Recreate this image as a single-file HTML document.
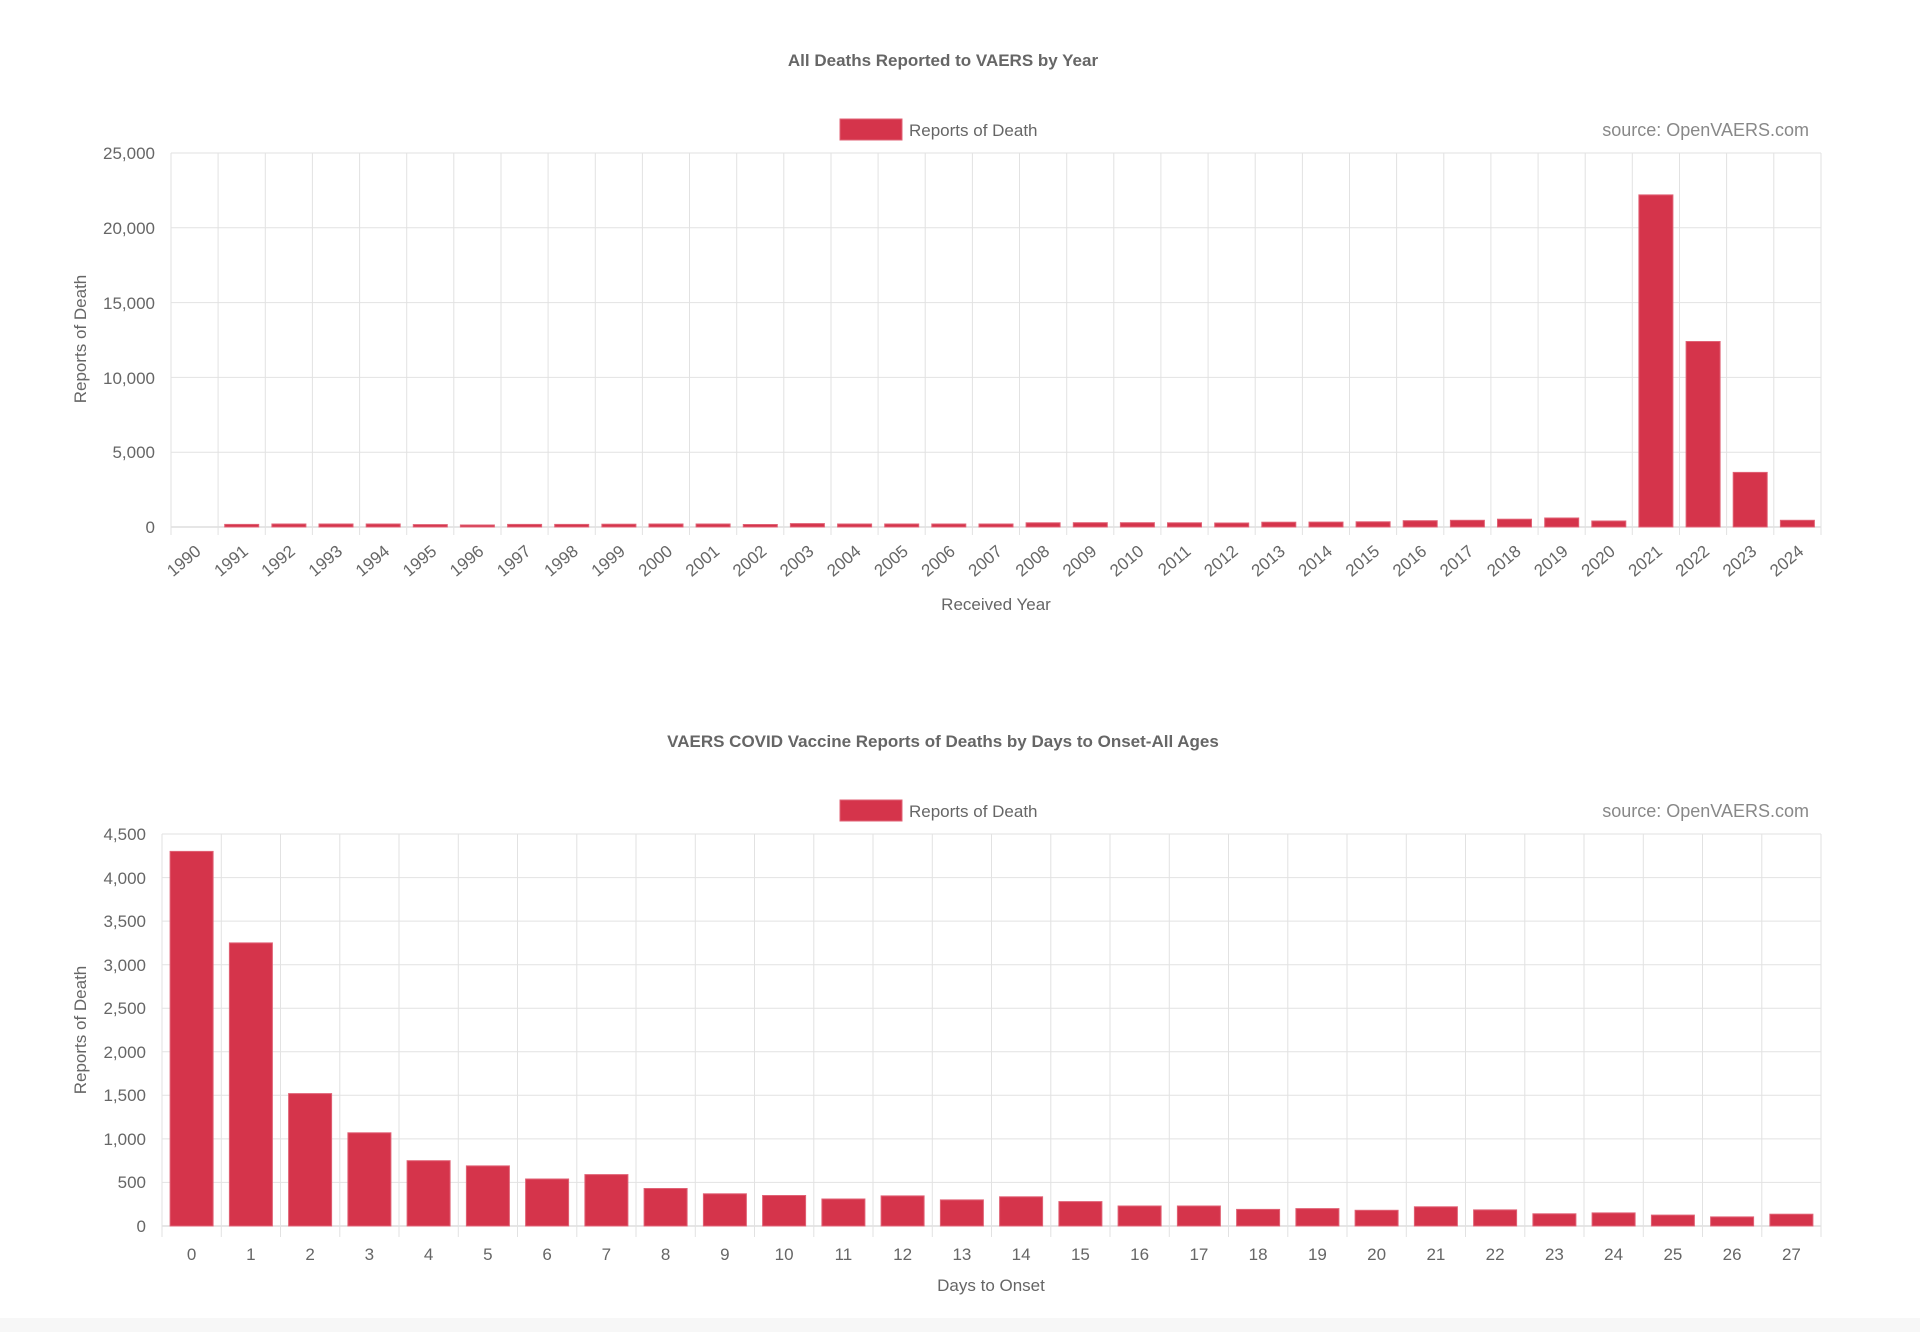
<!DOCTYPE html>
<html><head><meta charset="utf-8"><style>
html,body{margin:0;padding:0;background:#fff;}
svg{display:block;font-family:"Liberation Sans",Arial,sans-serif;}
.t{font-size:17px;fill:#666;}
.ti{font-size:17px;font-weight:bold;fill:#666;}
.g line{stroke:#e2e2e2;stroke-width:1;}
.b rect{fill:#d5344b;stroke:#e06275;stroke-width:1;}
</style></head><body>
<svg width="1920" height="1332" viewBox="0 0 1920 1332">
<rect x="0" y="1318" width="1920" height="14" fill="#f7f7f7"/>
<text class="ti" x="943" y="66" text-anchor="middle">All Deaths Reported to VAERS by Year</text>
<rect x="840" y="119" width="62" height="21" fill="#d5344b" stroke="#e06275"/>
<text class="t" x="909" y="136">Reports of Death</text>
<text class="t" x="1809" y="136" text-anchor="end" style="fill:#888;font-size:18px">source: OpenVAERS.com</text>
<g class="g">
<line x1="171" y1="153" x2="1821" y2="153"/><line x1="171" y1="227.8" x2="1821" y2="227.8"/><line x1="171" y1="302.6" x2="1821" y2="302.6"/><line x1="171" y1="377.4" x2="1821" y2="377.4"/><line x1="171" y1="452.2" x2="1821" y2="452.2"/><line x1="171" y1="527" x2="1821" y2="527" style="stroke:#ccc"/>
<line x1="171" y1="153" x2="171" y2="535"/><line x1="218.1" y1="153" x2="218.1" y2="535"/><line x1="265.3" y1="153" x2="265.3" y2="535"/><line x1="312.4" y1="153" x2="312.4" y2="535"/><line x1="359.6" y1="153" x2="359.6" y2="535"/><line x1="406.7" y1="153" x2="406.7" y2="535"/><line x1="453.8" y1="153" x2="453.8" y2="535"/><line x1="501" y1="153" x2="501" y2="535"/><line x1="548.1" y1="153" x2="548.1" y2="535"/><line x1="595.3" y1="153" x2="595.3" y2="535"/><line x1="642.4" y1="153" x2="642.4" y2="535"/><line x1="689.5" y1="153" x2="689.5" y2="535"/><line x1="736.7" y1="153" x2="736.7" y2="535"/><line x1="783.8" y1="153" x2="783.8" y2="535"/><line x1="831" y1="153" x2="831" y2="535"/><line x1="878.1" y1="153" x2="878.1" y2="535"/><line x1="925.2" y1="153" x2="925.2" y2="535"/><line x1="972.4" y1="153" x2="972.4" y2="535"/><line x1="1019.5" y1="153" x2="1019.5" y2="535"/><line x1="1066.7" y1="153" x2="1066.7" y2="535"/><line x1="1113.8" y1="153" x2="1113.8" y2="535"/><line x1="1160.9" y1="153" x2="1160.9" y2="535"/><line x1="1208.1" y1="153" x2="1208.1" y2="535"/><line x1="1255.2" y1="153" x2="1255.2" y2="535"/><line x1="1302.4" y1="153" x2="1302.4" y2="535"/><line x1="1349.5" y1="153" x2="1349.5" y2="535"/><line x1="1396.6" y1="153" x2="1396.6" y2="535"/><line x1="1443.8" y1="153" x2="1443.8" y2="535"/><line x1="1490.9" y1="153" x2="1490.9" y2="535"/><line x1="1538.1" y1="153" x2="1538.1" y2="535"/><line x1="1585.2" y1="153" x2="1585.2" y2="535"/><line x1="1632.3" y1="153" x2="1632.3" y2="535"/><line x1="1679.5" y1="153" x2="1679.5" y2="535"/><line x1="1726.6" y1="153" x2="1726.6" y2="535"/><line x1="1773.8" y1="153" x2="1773.8" y2="535"/><line x1="1821" y1="153" x2="1821" y2="535"/>
</g>
<g class="t" text-anchor="end">
<text x="155" y="159">25,000</text><text x="155" y="234">20,000</text><text x="155" y="309">15,000</text><text x="155" y="384">10,000</text><text x="155" y="458">5,000</text><text x="155" y="533">0</text>
</g>
<text class="t" transform="translate(86,339) rotate(-90)" text-anchor="middle">Reports of Death</text>
<g class="b">
<rect x="224.7" y="524.4" width="34" height="2.6"/><rect x="271.9" y="524" width="34" height="3"/><rect x="319" y="524" width="34" height="3"/><rect x="366.2" y="524" width="34" height="3"/><rect x="413.3" y="524.6" width="34" height="2.4"/><rect x="460.4" y="525" width="34" height="2"/><rect x="507.6" y="524.4" width="34" height="2.6"/><rect x="554.7" y="524.4" width="34" height="2.6"/><rect x="601.9" y="524.2" width="34" height="2.8"/><rect x="649" y="524" width="34" height="3"/><rect x="696.1" y="524" width="34" height="3"/><rect x="743.3" y="524.5" width="34" height="2.5"/><rect x="790.4" y="523.6" width="34" height="3.4"/><rect x="837.6" y="524" width="34" height="3"/><rect x="884.7" y="524" width="34" height="3"/><rect x="931.8" y="524" width="34" height="3"/><rect x="979" y="524" width="34" height="3"/><rect x="1026.1" y="522.8" width="34" height="4.2"/><rect x="1073.3" y="522.7" width="34" height="4.3"/><rect x="1120.4" y="522.7" width="34" height="4.3"/><rect x="1167.5" y="522.8" width="34" height="4.2"/><rect x="1214.7" y="523" width="34" height="4"/><rect x="1261.8" y="522.2" width="34" height="4.8"/><rect x="1309" y="522.1" width="34" height="4.9"/><rect x="1356.1" y="521.8" width="34" height="5.2"/><rect x="1403.2" y="520.7" width="34" height="6.3"/><rect x="1450.4" y="520.3" width="34" height="6.7"/><rect x="1497.5" y="519.2" width="34" height="7.8"/><rect x="1544.7" y="518" width="34" height="9"/><rect x="1591.8" y="521" width="34" height="6"/><rect x="1638.9" y="194.9" width="34" height="332.1"/><rect x="1686.1" y="341.5" width="34" height="185.5"/><rect x="1733.2" y="472.4" width="34" height="54.6"/><rect x="1780.4" y="520.3" width="34" height="6.7"/>
</g>
<g class="t" text-anchor="end">
<text transform="translate(202,553) rotate(-40)">1990</text><text transform="translate(249.2,553) rotate(-40)">1991</text><text transform="translate(296.3,553) rotate(-40)">1992</text><text transform="translate(343.5,553) rotate(-40)">1993</text><text transform="translate(390.6,553) rotate(-40)">1994</text><text transform="translate(437.8,553) rotate(-40)">1995</text><text transform="translate(484.9,553) rotate(-40)">1996</text><text transform="translate(532,553) rotate(-40)">1997</text><text transform="translate(579.2,553) rotate(-40)">1998</text><text transform="translate(626.3,553) rotate(-40)">1999</text><text transform="translate(673.5,553) rotate(-40)">2000</text><text transform="translate(720.6,553) rotate(-40)">2001</text><text transform="translate(767.7,553) rotate(-40)">2002</text><text transform="translate(814.9,553) rotate(-40)">2003</text><text transform="translate(862,553) rotate(-40)">2004</text><text transform="translate(909.2,553) rotate(-40)">2005</text><text transform="translate(956.3,553) rotate(-40)">2006</text><text transform="translate(1003.4,553) rotate(-40)">2007</text><text transform="translate(1050.6,553) rotate(-40)">2008</text><text transform="translate(1097.7,553) rotate(-40)">2009</text><text transform="translate(1144.9,553) rotate(-40)">2010</text><text transform="translate(1192,553) rotate(-40)">2011</text><text transform="translate(1239.1,553) rotate(-40)">2012</text><text transform="translate(1286.3,553) rotate(-40)">2013</text><text transform="translate(1333.4,553) rotate(-40)">2014</text><text transform="translate(1380.6,553) rotate(-40)">2015</text><text transform="translate(1427.7,553) rotate(-40)">2016</text><text transform="translate(1474.8,553) rotate(-40)">2017</text><text transform="translate(1522,553) rotate(-40)">2018</text><text transform="translate(1569.1,553) rotate(-40)">2019</text><text transform="translate(1616.3,553) rotate(-40)">2020</text><text transform="translate(1663.4,553) rotate(-40)">2021</text><text transform="translate(1710.5,553) rotate(-40)">2022</text><text transform="translate(1757.7,553) rotate(-40)">2023</text><text transform="translate(1804.8,553) rotate(-40)">2024</text>
</g>
<text class="t" x="996" y="610" text-anchor="middle">Received Year</text>

<text class="ti" x="943" y="747" text-anchor="middle">VAERS COVID Vaccine Reports of Deaths by Days to Onset-All Ages</text>
<rect x="840" y="800" width="62" height="21" fill="#d5344b" stroke="#e06275"/>
<text class="t" x="909" y="817">Reports of Death</text>
<text class="t" x="1809" y="817" text-anchor="end" style="fill:#888;font-size:18px">source: OpenVAERS.com</text>
<g class="g">
<line x1="162" y1="834" x2="1821" y2="834"/><line x1="162" y1="877.6" x2="1821" y2="877.6"/><line x1="162" y1="921.1" x2="1821" y2="921.1"/><line x1="162" y1="964.7" x2="1821" y2="964.7"/><line x1="162" y1="1008.2" x2="1821" y2="1008.2"/><line x1="162" y1="1051.8" x2="1821" y2="1051.8"/><line x1="162" y1="1095.3" x2="1821" y2="1095.3"/><line x1="162" y1="1138.9" x2="1821" y2="1138.9"/><line x1="162" y1="1182.4" x2="1821" y2="1182.4"/><line x1="162" y1="1226" x2="1821" y2="1226" style="stroke:#ccc"/>
<line x1="162" y1="834" x2="162" y2="1237"/><line x1="221.3" y1="834" x2="221.3" y2="1237"/><line x1="280.5" y1="834" x2="280.5" y2="1237"/><line x1="339.8" y1="834" x2="339.8" y2="1237"/><line x1="399" y1="834" x2="399" y2="1237"/><line x1="458.3" y1="834" x2="458.3" y2="1237"/><line x1="517.5" y1="834" x2="517.5" y2="1237"/><line x1="576.8" y1="834" x2="576.8" y2="1237"/><line x1="636" y1="834" x2="636" y2="1237"/><line x1="695.3" y1="834" x2="695.3" y2="1237"/><line x1="754.5" y1="834" x2="754.5" y2="1237"/><line x1="813.8" y1="834" x2="813.8" y2="1237"/><line x1="873" y1="834" x2="873" y2="1237"/><line x1="932.3" y1="834" x2="932.3" y2="1237"/><line x1="991.5" y1="834" x2="991.5" y2="1237"/><line x1="1050.8" y1="834" x2="1050.8" y2="1237"/><line x1="1110" y1="834" x2="1110" y2="1237"/><line x1="1169.3" y1="834" x2="1169.3" y2="1237"/><line x1="1228.5" y1="834" x2="1228.5" y2="1237"/><line x1="1287.8" y1="834" x2="1287.8" y2="1237"/><line x1="1347" y1="834" x2="1347" y2="1237"/><line x1="1406.3" y1="834" x2="1406.3" y2="1237"/><line x1="1465.5" y1="834" x2="1465.5" y2="1237"/><line x1="1524.8" y1="834" x2="1524.8" y2="1237"/><line x1="1584" y1="834" x2="1584" y2="1237"/><line x1="1643.3" y1="834" x2="1643.3" y2="1237"/><line x1="1702.5" y1="834" x2="1702.5" y2="1237"/><line x1="1761.8" y1="834" x2="1761.8" y2="1237"/><line x1="1821" y1="834" x2="1821" y2="1237"/>
</g>
<g class="t" text-anchor="end">
<text x="146" y="840">4,500</text><text x="146" y="884">4,000</text><text x="146" y="927">3,500</text><text x="146" y="971">3,000</text><text x="146" y="1014">2,500</text><text x="146" y="1058">2,000</text><text x="146" y="1101">1,500</text><text x="146" y="1145">1,000</text><text x="146" y="1188">500</text><text x="146" y="1232">0</text>
</g>
<text class="t" transform="translate(86,1030) rotate(-90)" text-anchor="middle">Reports of Death</text>
<g class="b">
<rect x="170.1" y="851.4" width="43" height="374.6"/><rect x="229.4" y="942.9" width="43" height="283.1"/><rect x="288.6" y="1093.6" width="43" height="132.4"/><rect x="347.9" y="1132.8" width="43" height="93.2"/><rect x="407.1" y="1160.7" width="43" height="65.3"/><rect x="466.4" y="1165.9" width="43" height="60.1"/><rect x="525.6" y="1179" width="43" height="47"/><rect x="584.9" y="1174.6" width="43" height="51.4"/><rect x="644.1" y="1188.5" width="43" height="37.5"/><rect x="703.4" y="1193.8" width="43" height="32.2"/><rect x="762.6" y="1195.5" width="43" height="30.5"/><rect x="821.9" y="1199" width="43" height="27"/><rect x="881.1" y="1195.9" width="43" height="30.1"/><rect x="940.4" y="1199.9" width="43" height="26.1"/><rect x="999.6" y="1196.8" width="43" height="29.2"/><rect x="1058.9" y="1201.6" width="43" height="24.4"/><rect x="1118.1" y="1206" width="43" height="20"/><rect x="1177.4" y="1206" width="43" height="20"/><rect x="1236.6" y="1209.4" width="43" height="16.6"/><rect x="1295.9" y="1208.6" width="43" height="17.4"/><rect x="1355.1" y="1210.3" width="43" height="15.7"/><rect x="1414.4" y="1206.8" width="43" height="19.2"/><rect x="1473.6" y="1209.9" width="43" height="16.1"/><rect x="1532.9" y="1213.8" width="43" height="12.2"/><rect x="1592.1" y="1212.9" width="43" height="13.1"/><rect x="1651.4" y="1215.1" width="43" height="10.9"/><rect x="1710.6" y="1216.9" width="43" height="9.1"/><rect x="1769.9" y="1214.2" width="43" height="11.8"/>
</g>
<g class="t" text-anchor="middle">
<text x="191.6" y="1260">0</text><text x="250.9" y="1260">1</text><text x="310.1" y="1260">2</text><text x="369.4" y="1260">3</text><text x="428.6" y="1260">4</text><text x="487.9" y="1260">5</text><text x="547.1" y="1260">6</text><text x="606.4" y="1260">7</text><text x="665.6" y="1260">8</text><text x="724.9" y="1260">9</text><text x="784.1" y="1260">10</text><text x="843.4" y="1260">11</text><text x="902.6" y="1260">12</text><text x="961.9" y="1260">13</text><text x="1021.1" y="1260">14</text><text x="1080.4" y="1260">15</text><text x="1139.6" y="1260">16</text><text x="1198.9" y="1260">17</text><text x="1258.1" y="1260">18</text><text x="1317.4" y="1260">19</text><text x="1376.6" y="1260">20</text><text x="1435.9" y="1260">21</text><text x="1495.1" y="1260">22</text><text x="1554.4" y="1260">23</text><text x="1613.6" y="1260">24</text><text x="1672.9" y="1260">25</text><text x="1732.1" y="1260">26</text><text x="1791.4" y="1260">27</text>
</g>
<text class="t" x="991" y="1291" text-anchor="middle">Days to Onset</text>
</svg>
</body></html>
